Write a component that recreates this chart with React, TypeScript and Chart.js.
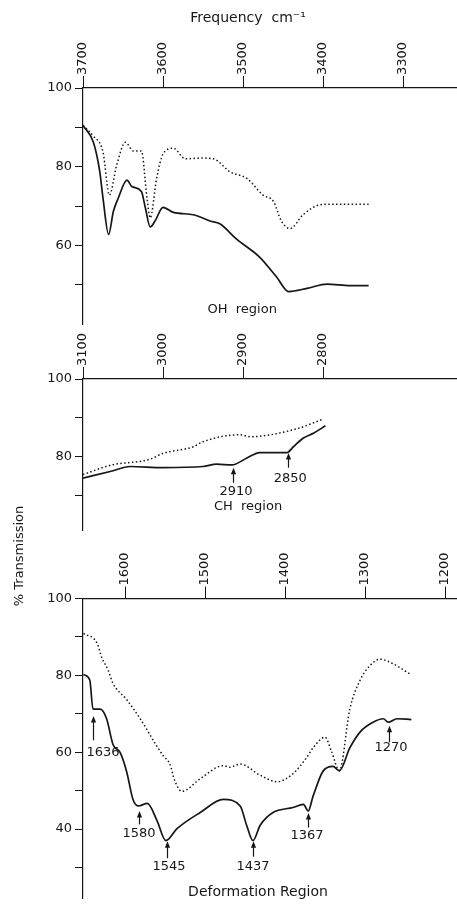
import React, { useEffect, useRef } from 'react';
import { Chart, registerables } from 'chart.js';
Chart.register(...registerables);

const FONT = '"DejaVu Sans", "Liberation Sans", sans-serif';
const INK = '#161616';

// ---------- OH region ----------
const ohFreqSolid = [3700, 3687, 3679, 3675, 3668, 3662, 3656, 3645, 3639, 3627, 3622, 3616, 3610, 3600, 3587, 3562, 3541, 3529, 3508, 3479, 3458, 3443, 3420, 3395, 3366, 3343];
const ohSolid = [90.5, 86.2, 78.7, 72, 62.8, 68.7, 72, 76.6, 75, 73.7, 69.5, 64.7, 66.2, 69.7, 68.4, 67.8, 66.2, 65.5, 61.6, 57, 52, 48.3, 49.1, 50.2, 49.8, 49.8];
const ohFreqDotted = [3700, 3687, 3675, 3667, 3658, 3647, 3637, 3627, 3620, 3616, 3608, 3600, 3587, 3572, 3554, 3537, 3516, 3495, 3475, 3462, 3452, 3441, 3425, 3404, 3387, 3343];
const ohDotted = [90.5, 87.8, 83.7, 72.8, 80.3, 86.2, 84, 84, 72, 67, 77, 83.2, 84.7, 82, 82.2, 82, 78.7, 77, 72.8, 71.2, 66.2, 64.3, 67.8, 70.3, 70.5, 70.5];
const ohXTicks = [3700, 3600, 3500, 3400, 3300];
const ohYTicks = [50, 60, 70, 80, 90, 100];
const ohYLabels = [100, 80, 60];

// ---------- CH region ----------
const chFreqSolid = [3100, 3066, 3041, 3000, 2950, 2933, 2914, 2895, 2879, 2845, 2837, 2825, 2812, 2797];
const chSolid = [74.4, 76.1, 77.4, 77.1, 77.4, 78, 77.8, 79.6, 81, 81, 82.5, 84.7, 86, 87.9];
const chFreqDotted = [3100, 3066, 3016, 3000, 2962, 2950, 2904, 2891, 2837, 2800];
const chDotted = [75.3, 77.7, 79.3, 80.8, 82.5, 83.8, 85.6, 85.1, 86.9, 89.6];
const chXTicks = [3100, 3000, 2900, 2800];
const chYTicks = [70, 80, 90, 100];
const chYLabels = [100, 80];
const chArrowLabels = ['2910', '2850'];
const chArrowFreq = [2912.5, 2843.75];

// ---------- Deformation region ----------
const dfFreqSolid = [1652, 1644, 1640, 1631, 1623, 1615, 1606, 1598, 1590, 1583, 1572, 1560, 1549, 1535, 1506, 1477, 1456, 1448, 1440, 1431, 1415, 1390, 1377, 1371, 1365, 1352, 1340, 1332, 1319, 1306, 1290, 1277, 1271, 1260, 1242];
const dfSolid = [80.2, 78.8, 71.2, 71.2, 68.7, 62, 59.9, 55, 47.7, 46, 46.7, 42.2, 37, 40.1, 44.3, 47.7, 46, 41, 37, 41, 44.3, 45.6, 46.4, 44.7, 48.5, 55.2, 56.3, 55.2, 61.1, 65.3, 67.8, 68.7, 67.8, 68.7, 68.5];
const dfFreqDotted = [1652, 1635, 1629, 1621, 1615, 1598, 1581, 1560, 1552, 1544, 1538, 1529, 1506, 1477, 1469, 1456, 1431, 1410, 1390, 1373, 1365, 1350, 1342, 1332, 1319, 1306, 1294, 1281, 1265, 1244];
const dfDotted = [90.9, 88.4, 84.6, 81.3, 77.9, 73.7, 68.7, 61.5, 59, 56.9, 52.7, 49.8, 53.1, 56.5, 56.1, 56.9, 54, 52.3, 54.4, 58.6, 61.1, 63.9, 60.3, 55.2, 71.2, 78.8, 82.5, 84.2, 83, 80.4];
const dfXTicks = [1600, 1500, 1400, 1300, 1200];
const dfYTicks = [30, 40, 50, 60, 70, 80, 90, 100];
const dfYLabels = [100, 80, 60, 40];
const dfArrowLabels = ['1636', '1580', '1545', '1437', '1367', '1270'];
const dfArrowFreq = [1639.6, 1582.5, 1547.9, 1440.4, 1370.9, 1270];

type Arrow = { f: number; tip: number; tail: number };
type Txt = { text: string; f: number; v?: number; dy?: number; size?: number };

const zip = (xs: number[], ys: number[]) => xs.map((x, i) => ({ x, y: ys[i] }));

function makeAnnot(arrows: Arrow[], texts: Txt[], side?: { text: string; dx: number; dy: number }) {
  return {
    id: 'annot',
    afterDatasetsDraw(chart: any) {
      const { ctx, chartArea } = chart;
      const x = chart.scales.x;
      const y = chart.scales.y;
      ctx.save();
      ctx.fillStyle = INK;
      ctx.strokeStyle = INK;
      arrows.forEach((a) => {
        const px = Math.round(x.getPixelForValue(a.f)) + 0.5;
        const ty = y.getPixelForValue(a.tip);
        const by = y.getPixelForValue(a.tail);
        ctx.lineWidth = 1.2;
        ctx.beginPath();
        ctx.moveTo(px, by);
        ctx.lineTo(px, ty + 4);
        ctx.stroke();
        ctx.beginPath();
        ctx.moveTo(px, ty);
        ctx.lineTo(px - 2.6, ty + 6.5);
        ctx.lineTo(px + 2.6, ty + 6.5);
        ctx.closePath();
        ctx.fill();
      });
      texts.forEach((t) => {
        ctx.font = `${t.size || 13}px ${FONT}`;
        ctx.textAlign = 'center';
        ctx.textBaseline = 'middle';
        const py = t.v !== undefined ? y.getPixelForValue(t.v) : chartArea.top + (t.dy || 0);
        ctx.fillText(t.text, x.getPixelForValue(t.f), py);
      });
      if (side) {
        ctx.translate(chartArea.left + side.dx, chartArea.top + side.dy);
        ctx.rotate(-Math.PI / 2);
        ctx.font = `13px ${FONT}`;
        ctx.textAlign = 'center';
        ctx.textBaseline = 'middle';
        ctx.fillText(side.text, 0, 0);
      }
      ctx.restore();
    },
  };
}

type Panel = {
  fs: number[]; solid: number[]; fd: number[]; dotted: number[];
  xMin: number; xMax: number; xTicks: number[];
  yMin: number; yMax: number; yTicks: number[]; yLabels: number[];
  xAxisH: number; padBottom: number;
  plugin: any;
};

function makeConfig(p: Panel): any {
  return {
    type: 'line',
    data: {
      datasets: [
        {
          data: zip(p.fs, p.solid),
          borderColor: INK,
          borderWidth: 1.7,
          pointRadius: 0,
          fill: false,
          cubicInterpolationMode: 'monotone',
        },
        {
          data: zip(p.fd, p.dotted),
          borderColor: INK,
          borderWidth: 1.5,
          borderDash: [1.5, 2.4],
          pointRadius: 0,
          fill: false,
          cubicInterpolationMode: 'monotone',
        },
      ],
    },
    options: {
      animation: false,
      responsive: false,
      maintainAspectRatio: false,
      layout: { padding: { left: 0, right: 0, top: 0, bottom: p.padBottom } },
      plugins: { legend: { display: false }, tooltip: { enabled: false }, title: { display: false } },
      scales: {
        x: {
          type: 'linear',
          position: 'top',
          reverse: true,
          min: p.xMin,
          max: p.xMax,
          afterBuildTicks: (s: any) => { s.ticks = p.xTicks.map((v) => ({ value: v })); },
          afterFit: (s: any) => { s.height = p.xAxisH; },
          ticks: {
            autoSkip: false,
            minRotation: 90,
            maxRotation: 90,
            padding: 1,
            labelOffset: 15.6,
            color: INK,
            font: { family: FONT, size: 13 },
            callback: (v: any) => String(v),
          },
          grid: { drawOnChartArea: false, drawTicks: true, tickLength: 12, color: INK, lineWidth: 1 },
          border: { display: true, color: INK, width: 1.2 },
        },
        y: {
          type: 'linear',
          min: p.yMin,
          max: p.yMax,
          afterBuildTicks: (s: any) => { s.ticks = p.yTicks.map((v) => ({ value: v })); },
          afterFit: (s: any) => { s.width = 83; },
          ticks: {
            autoSkip: false,
            padding: 3,
            color: INK,
            font: { family: FONT, size: 13 },
            callback: (v: any) => (p.yLabels.includes(Number(v)) ? String(v) : ''),
          },
          grid: { drawOnChartArea: false, drawTicks: true, tickLength: 8, color: INK, lineWidth: 1 },
          border: { display: true, color: INK, width: 1.2 },
        },
      },
    },
    plugins: [p.plugin],
  };
}

export default function App() {
  const r1 = useRef<HTMLCanvasElement>(null);
  const r2 = useRef<HTMLCanvasElement>(null);
  const r3 = useRef<HTMLCanvasElement>(null);

  useEffect(() => {
    const p1: Panel = {
      fs: ohFreqSolid, solid: ohSolid, fd: ohFreqDotted, dotted: ohDotted,
      xMin: 3232.5, xMax: 3700, xTicks: ohXTicks,
      yMin: 40, yMax: 100, yTicks: ohYTicks, yLabels: ohYLabels,
      xAxisH: 88, padBottom: 7,
      plugin: makeAnnot([], [
        { text: 'OH  region', f: 3501, v: 43.75 },
        { text: 'Frequency  cm\u207B\u00B9', f: 3493.75, dy: -70, size: 14 },
      ]),
    };
    const p2: Panel = {
      fs: chFreqSolid, solid: chSolid, fd: chFreqDotted, dotted: chDotted,
      xMin: 2632.5, xMax: 3100, xTicks: chXTicks,
      yMin: 61, yMax: 100, yTicks: chYTicks, yLabels: chYLabels,
      xAxisH: 49, padBottom: 15,
      plugin: makeAnnot(
        [
          { f: chArrowFreq[0], tip: 77.1, tail: 73.2 },
          { f: chArrowFreq[1], tip: 80.9, tail: 77.1 },
        ],
        [
          { text: chArrowLabels[0], f: 2908.75, v: 70.9 },
          { text: chArrowLabels[1], f: 2841, v: 74.2 },
          { text: 'CH  region', f: 2893.75, v: 67.0 },
        ],
      ),
    };
    const p3: Panel = {
      fs: dfFreqSolid, solid: dfSolid, fd: dfFreqDotted, dotted: dfDotted,
      xMin: 1185, xMax: 1652.5, xTicks: dfXTicks,
      yMin: 22, yMax: 100, yTicks: dfYTicks, yLabels: dfYLabels,
      xAxisH: 118.5, padBottom: 1,
      plugin: makeAnnot(
        [
          { f: dfArrowFreq[0], tip: 69.4, tail: 63.1 },
          { f: dfArrowFreq[1], tip: 44.7, tail: 41.2 },
          { f: dfArrowFreq[2], tip: 36.8, tail: 32.4 },
          { f: dfArrowFreq[3], tip: 36.8, tail: 32.8 },
          { f: dfArrowFreq[4], tip: 44.2, tail: 40.4 },
          { f: dfArrowFreq[5], tip: 66.9, tail: 62.6 },
        ],
        [
          { text: dfArrowLabels[0], f: 1627.5, v: 59.8 },
          { text: dfArrowLabels[1], f: 1582.5, v: 38.9 },
          { text: dfArrowLabels[2], f: 1545, v: 30.3 },
          { text: dfArrowLabels[3], f: 1440, v: 30.3 },
          { text: dfArrowLabels[4], f: 1372.5, v: 38.4 },
          { text: dfArrowLabels[5], f: 1267.5, v: 61.1 },
          { text: 'Deformation Region', f: 1433.75, v: 23.6, size: 14 },
        ],
        { text: '% Transmission', dx: -63, dy: -42.5 },
      ),
    };
    const c1 = new Chart(r1.current!, makeConfig(p1));
    const c2 = new Chart(r2.current!, makeConfig(p2));
    const c3 = new Chart(r3.current!, makeConfig(p3));
    return () => { c1.destroy(); c2.destroy(); c3.destroy(); };
  }, []);

  return (
    <div style={{ position: 'absolute', left: 0, top: 0, width: 457, height: 909, background: '#fff', overflow: 'hidden' }}>
      <canvas ref={r1} width={457} height={335} style={{ position: 'absolute', left: 0, top: 0, width: 457, height: 335 }} />
      <canvas ref={r2} width={457} height={215} style={{ position: 'absolute', left: 0, top: 330, width: 457, height: 215 }} />
      <canvas ref={r3} width={457} height={429} style={{ position: 'absolute', left: 0, top: 480, width: 457, height: 429 }} />
    </div>
  );
}
